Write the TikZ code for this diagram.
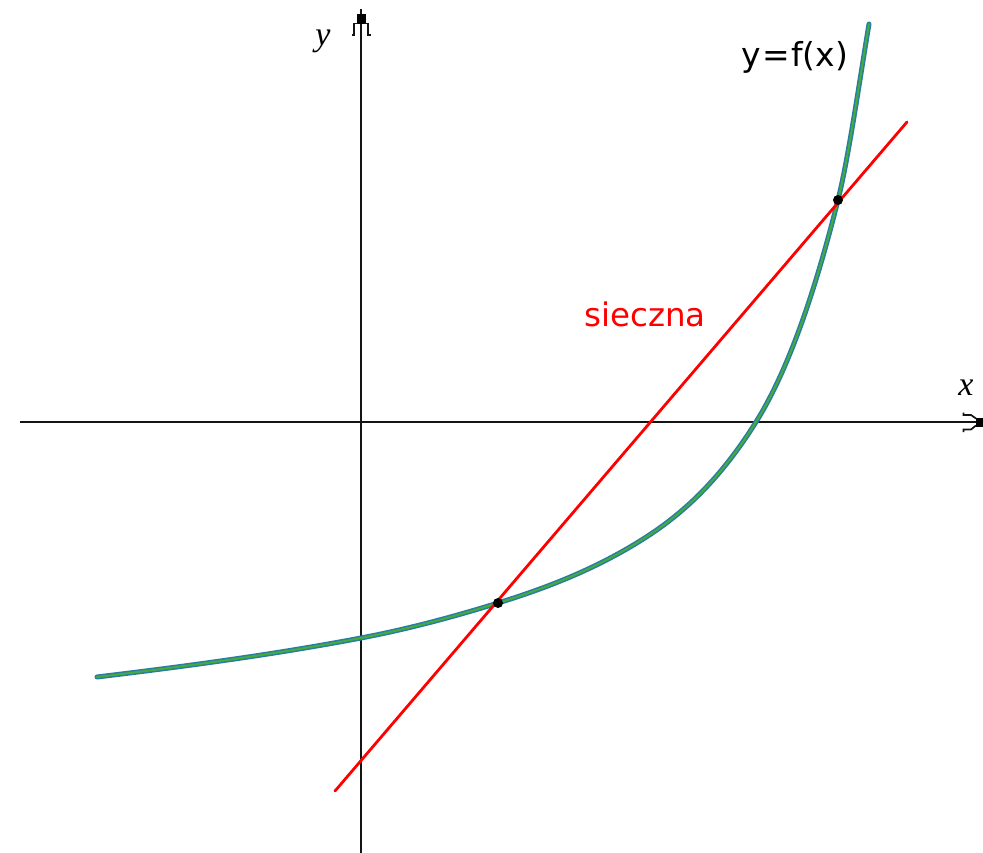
\documentclass[tikz,border=0pt]{standalone}
\usepackage{fontspec}
\setmainfont{Liberation Serif}
\newfontfamily\labelfont{DejaVu Sans}
\definecolor{curveblue}{RGB}{40,125,165}
\definecolor{curvegreen}{RGB}{70,170,60}
\definecolor{secred}{RGB}{255,0,0}
\definecolor{axisgray}{RGB}{20,20,20}
\tikzset{
  axisline/.style={draw=axisgray,line width=2pt},
  tipbox/.style={fill=black},
  barb/.style={draw=axisgray,line width=1.7pt},
  curvebase/.style={draw=curveblue,line width=5pt,line cap=round},
  curvetop/.style={draw=curvegreen,line width=2pt,line cap=round},
  secant/.style={draw=secred,line width=2.8pt,line cap=round},
  dotpt/.style={circle,fill=black,inner sep=0pt,minimum size=10pt},
  axislabel/.style={font=\fontsize{34}{36}\selectfont\itshape,inner sep=0pt},
  funclabel/.style={font=\labelfont\fontsize{33}{36}\selectfont,inner sep=0pt},
  seclabel/.style={font=\labelfont\fontsize{32.5}{35}\selectfont,text=secred,inner sep=0pt}
}
\begin{document}
\begin{tikzpicture}[x=1pt,y=-1pt]
\useasboundingbox[fill=white] (0,0) rectangle (983,853);
% axes
\coordinate (xs) at (20,422);
\coordinate (xe) at (983,422);
\coordinate (ys) at (361,853);
\coordinate (ye) at (361,9);
\draw[axisline] (xs) -- (xe);
\draw[axisline] (ys) -- (ye);
% y arrow tip
\fill[tipbox] (356.5,14) rectangle (365.5,24);
\draw[barb] (358,23.5) -- (353.8,23.5) -- (353.8,35) -- (351.5,35);
\draw[barb] (364,23.5) -- (368.2,23.5) -- (368.2,35) -- (370.5,35);
% x arrow tip
\fill[tipbox] (975.5,417.5) rectangle (983,426.5);
\draw[barb] (976,418.5) -- (971,415) -- (963.5,415) -- (963.5,412.5);
\draw[barb] (976,425.5) -- (971,429.5) -- (963.5,429.5) -- (963.5,432);
% curve (piecewise cubic Hermite)
\coordinate (c0) at (97,677);
\coordinate (c1) at (361,638);
\coordinate (c2) at (498,603);
\coordinate (c3) at (640,541);
\coordinate (c4) at (756,422);
\coordinate (c5) at (838,200);
\coordinate (c6) at (869,24);
\def\curvepath{(c0) .. controls (185,666.4) and (273,654.7) .. (c1)
  .. controls (406.7,629.3) and (452.3,617.2) .. (c2)
  .. controls (545.3,588.3) and (592.7,570.3) .. (c3)
  .. controls (678.7,517) and (717.3,483.9) .. (c4)
  .. controls (783.3,378.3) and (810.7,309.3) .. (c5)
  .. controls (848.3,158.7) and (858.7,86) .. (c6)}
\draw[curvebase] \curvepath;
\draw[curvetop] \curvepath;
% secant
\coordinate (s0) at (335,791);
\coordinate (s1) at (907,122);
\draw[secant] (s0) -- (s1);
% points
\node[dotpt] (p1) at (c2) {};
\node[dotpt] (p2) at (c5) {};
% labels
\node[axislabel,anchor=base] (ylab) at (323,46) {y};
\node[axislabel,anchor=base] (xlab) at (966,395) {x};
\node[funclabel,anchor=base] (flab) at (795,67) {y\kern1pt=\kern1pt f(x)};
\node[seclabel,anchor=base] (slab) at (645,326) {sieczna};
\end{tikzpicture}
\end{document}
